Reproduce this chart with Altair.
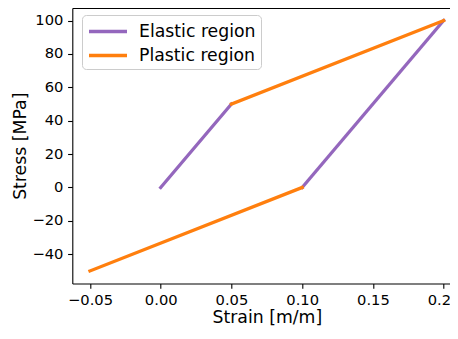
import altair as alt
import pandas as pd

region = ["Elastic region"] * 4 + ["Plastic region"] * 4
segment = ["e1", "e1", "e2", "e2", "p1", "p1", "p2", "p2"]
strain = [0.0, 0.05, 0.1, 0.2, 0.05, 0.2, -0.05, 0.1]
stress = [0, 50, 0, 100, 50, 100, -50, 0]

x_ticks = [-0.05, 0.0, 0.05, 0.10, 0.15, 0.20]
y_ticks = [-40, -20, 0, 20, 40, 60, 80, 100]

df = pd.DataFrame({"region": region, "segment": segment, "strain": strain, "stress": stress})

FONT = "DejaVu Sans"

x_scale = alt.Scale(domain=[-0.0625, 0.2125], nice=False, zero=False)
y_scale = alt.Scale(domain=[-57.5, 107.5], nice=False, zero=False)

y_axis = alt.Axis(title="Stress [MPa]", values=y_ticks, format="d",
                  grid=False, tickSize=4.7, labelPadding=4.7,
                  titlePadding=2, labelOverlap=False)

lines = alt.Chart(df).mark_line(strokeWidth=3.3, strokeCap="square").encode(
    x=alt.X("strain:Q", scale=x_scale,
            axis=alt.Axis(title="Strain [m/m]", values=x_ticks, format=".2f",
                          grid=False, tickSize=4.7, labelPadding=4,
                          titlePadding=2, orient="bottom", labelOverlap=False)),
    y=alt.Y("stress:Q", scale=y_scale, axis=y_axis),
    color=alt.Color("region:N",
                    scale=alt.Scale(domain=["Elastic region", "Plastic region"],
                                    range=["#9467bd", "#ff7f0e"]),
                    legend=alt.Legend(title=None, orient="none", legendX=9.7, legendY=7,
                                      symbolType="M-1,0H3", symbolSize=361,
                                      symbolStrokeWidth=3.3, labelFontSize=17.3,
                                      labelFont=FONT, labelOffset=29,
                                      rowPadding=4, padding=5,
                                      fillColor="white", strokeColor="#cccccc",
                                      cornerRadius=4, labelColor="black")),
    detail="segment:N",
)

top_spine = alt.Chart(df).mark_line(opacity=0).encode(
    x=alt.X("strain:Q", scale=x_scale,
            axis=alt.Axis(orient="top", title=None, labels=False, ticks=False,
                          grid=False)),
    y=alt.Y("stress:Q", scale=y_scale, axis=y_axis),
    detail="segment:N",
)

chart = alt.layer(lines, top_spine).resolve_axis(x="independent").properties(
    width=389,
    height=275.5,
    autosize=alt.AutoSizeParams(type="none"),
    padding={"left": 64.3, "top": 0, "right": -11.3, "bottom": 42.5},
).configure_view(
    stroke=None
).configure_axis(
    labelFont=FONT, titleFont=FONT, labelFontSize=14.7, titleFontSize=17.3,
    labelColor="black", titleColor="black", tickColor="black",
    domainColor="black", domainWidth=1.1, tickWidth=1.1,
    titleFontWeight="normal",
)

chart.save("out.html", embed_options={"renderer": "svg", "actions": False})
